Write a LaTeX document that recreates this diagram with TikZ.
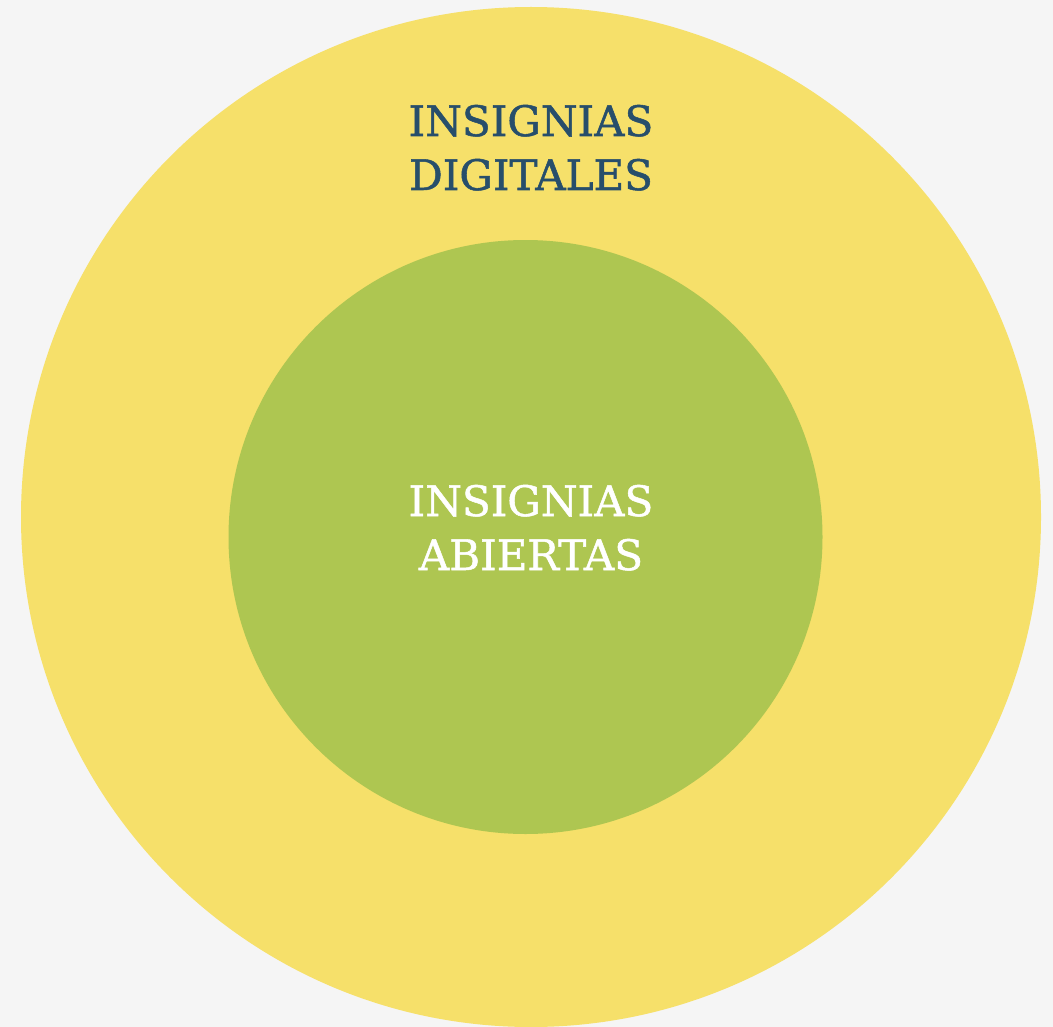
\documentclass[tikz,border=0pt]{standalone}
\usepackage{fontspec}
\setmainfont{DejaVu Serif}
\newfontfamily\badgefont[BoldFont={DejaVu Serif},BoldFeatures={FakeBold=1.2}]{DejaVu Serif}
\usepackage{tikz}

\definecolor{bgGray}{HTML}{F5F5F5}
\definecolor{badgeYellow}{HTML}{F6E06A}
\definecolor{badgeGreen}{HTML}{AEC651}
\definecolor{badgeBlue}{HTML}{274E6B}

\tikzset{
	ring/.style={circle,inner sep=0pt,draw=none},
	label text/.style={inner sep=0.75pt,align=center,font=\badgefont\bfseries\fontsize{31.5}{40.5}\selectfont}
}

\begin{document}
\begin{tikzpicture}[x=0.75pt,y=0.75pt,yscale=-1,xscale=1]
		%set diagram left start at 0, and has height of 1027
		\fill[bgGray] (0,0) rectangle (1053,1027);
		\useasboundingbox (0,0) rectangle (1053,1027);
		
		%Shape: Circle [outer]
		\node [ring,fill=badgeYellow,minimum size=1020*0.75pt] (digital) at (531,517) {};
		%Shape: Circle [inner]
		\node [ring,fill=badgeGreen,minimum size=594*0.75pt] (open) at (525.5,537) {};
		
		% Text Node
		\node [label text,text=badgeBlue,anchor=base] (digitalText) at (531,190) {INSIGNIAS\\DIGITALES};
		% Text Node
		\node [label text,text=white,anchor=base] (openText) at (531,570) {INSIGNIAS\\ABIERTAS};
		
\end{tikzpicture}
\end{document}
